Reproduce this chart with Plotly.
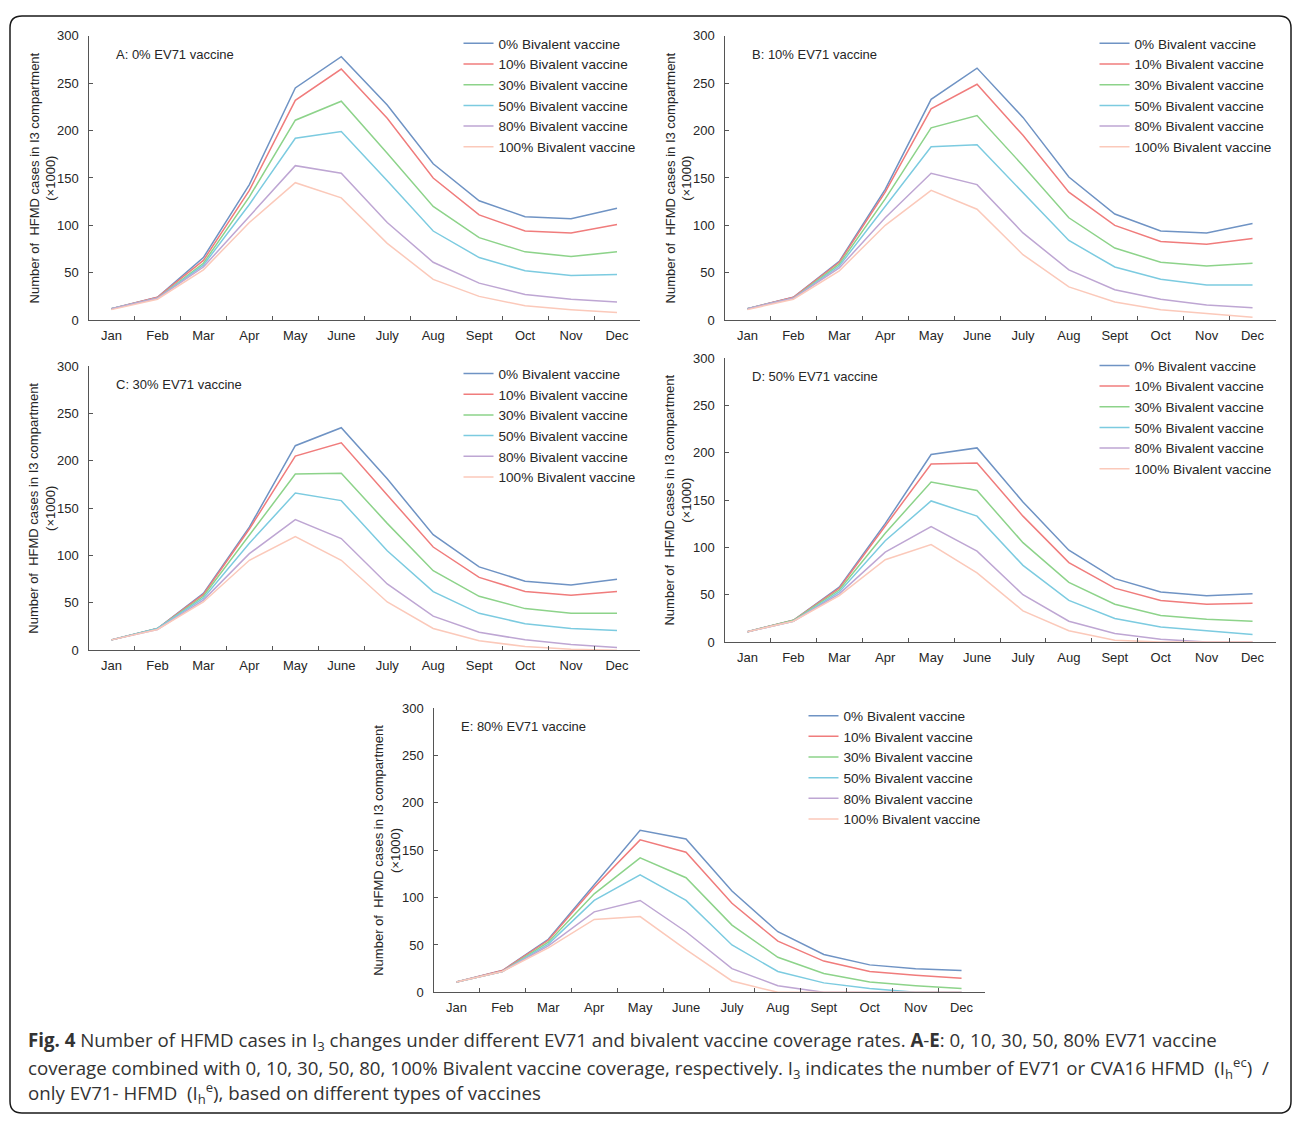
import plotly.graph_objects as go

W, H = 1292, 1122

months = ["Jan", "Feb", "Mar", "Apr", "May", "June", "July", "Aug", "Sept", "Oct", "Nov", "Dec"]
series_names = ["0% Bivalent vaccine", "10% Bivalent vaccine", "30% Bivalent vaccine",
                "50% Bivalent vaccine", "80% Bivalent vaccine", "100% Bivalent vaccine"]
colors = ["#6F93C4", "#F07C7C", "#8DD38A", "#7CCBE0", "#BEA6D3", "#FBC9BA"]

panel_titles = ["A: 0% EV71 vaccine", "B: 10% EV71 vaccine", "C: 30% EV71 vaccine",
                "D: 50% EV71 vaccine", "E: 80% EV71 vaccine"]

# Panel A: 0% EV71
a0 = [12, 24, 66, 143, 245, 278, 227, 165, 126, 109, 107, 118]
a10 = [12, 24, 63, 137, 232, 265, 213, 150, 111, 94, 92, 101]
a30 = [12, 23, 60, 130, 211, 231, 176, 120, 87, 72, 67, 72]
a50 = [12, 23, 58, 122, 192, 199, 147, 94, 66, 52, 47, 48]
a80 = [12, 23, 56, 110, 163, 155, 103, 61, 39, 27, 22, 19]
a100 = [11, 22, 53, 103, 145, 129, 81, 43, 25, 15, 11, 8]

# Panel B: 10% EV71
b0 = [12, 24, 62, 138, 233, 266, 214, 151, 112, 94, 92, 102]
b10 = [12, 24, 61, 135, 223, 249, 195, 135, 100, 83, 80, 86]
b30 = [12, 23, 59, 128, 203, 216, 163, 108, 76, 61, 57, 60]
b50 = [12, 23, 57, 120, 183, 185, 134, 84, 56, 43, 37, 37]
b80 = [12, 23, 55, 108, 155, 143, 92, 53, 32, 22, 16, 13]
b100 = [11, 22, 52, 100, 137, 117, 69, 35, 19, 11, 7, 3]

# Panel C: 30% EV71
c0 = [11, 23, 60, 130, 216, 235, 181, 122, 88, 73, 69, 75]
c10 = [11, 23, 59, 128, 205, 219, 164, 109, 77, 62, 58, 62]
c30 = [11, 23, 57, 122, 186, 187, 134, 84, 57, 44, 39, 39]
c50 = [11, 23, 55, 113, 166, 158, 105, 62, 39, 28, 23, 21]
c80 = [11, 22, 53, 102, 138, 118, 70, 36, 19, 11, 6, 3]
c100 = [11, 22, 51, 95, 120, 95, 51, 23, 10, 4, 1, 0]

# Panel D: 50% EV71
d0 = [11, 23, 58, 125, 198, 205, 148, 97, 67, 53, 49, 51]
d10 = [11, 23, 57, 122, 188, 189, 133, 84, 57, 44, 40, 41]
d30 = [11, 23, 55, 115, 169, 160, 105, 63, 40, 28, 24, 22]
d50 = [11, 22, 53, 107, 149, 133, 81, 44, 25, 16, 12, 8]
d80 = [11, 22, 51, 95, 122, 96, 50, 22, 9, 3, 0, 0]
d100 = [11, 22, 49, 87, 103, 73, 33, 12, 2, 0, 0, 0]

# Panel E: 80% EV71
e0 = [11, 23, 56, 113, 171, 162, 107, 64, 40, 29, 25, 23]
e10 = [11, 23, 55, 111, 161, 148, 94, 54, 33, 22, 18, 15]
e30 = [11, 22, 53, 104, 142, 121, 71, 37, 20, 11, 7, 4]
e50 = [11, 22, 51, 97, 124, 97, 50, 22, 10, 4, 0, 0]
e80 = [11, 22, 49, 85, 97, 64, 25, 7, 0, 0, 0, 0]
e100 = [11, 22, 47, 77, 80, 45, 12, 0, 0, 0, 0, 0]

y_ticks = [0, 50, 100, 150, 200, 250, 300]
y_title = "Number of  HFMD cases in I3 compartment<br>(×1000)"

panels = [
    [a0, a10, a30, a50, a80, a100],
    [b0, b10, b30, b50, b80, b100],
    [c0, c10, c30, c50, c80, c100],
    [d0, d10, d30, d50, d80, d100],
    [e0, e10, e30, e50, e80, e100],
]

# plot-area boxes in pixels: (x_left, x_right, y_top(300), y_bottom(0))
boxes = [
    (88.5, 640, 29.3, 317.3),
    (724.5, 1275.5, 29.3, 317.3),
    (88.5, 640, 364, 652),
    (724.5, 1275.5, 355.7, 643.7),
    (433.5, 984.5, 710.7, 998.7),
]

FONT = "Liberation Sans, Arial, sans-serif"
AXC = "#555555"
TXT = "#262626"

fig = go.Figure()
layout = dict(
    width=W, height=H, margin=dict(l=0, r=0, t=0, b=0),
    paper_bgcolor="white", plot_bgcolor="white",
    showlegend=True, font=dict(family=FONT, size=13, color=TXT),
)
annotations = []
shapes = []

def px(x):
    return x / W

def py(y):
    return 1 - y / H

for i, (series, box) in enumerate(zip(panels, boxes)):
    n = "" if i == 0 else str(i + 1)
    xl, xr, yt, yb = box
    lg = "legend" + n
    for vals, name, col in zip(series, series_names, colors):
        fig.add_trace(go.Scatter(
            x=months, y=vals, name=name, mode="lines",
            line=dict(color=col, width=1.5),
            xaxis="x" + n, yaxis="y" + n, legend=lg, showlegend=True,
            hoverinfo="skip",
        ))
    layout["xaxis" + n] = dict(
        domain=[px(xl), px(xr)], anchor="y" + n, type="category",
        range=[-0.5, 11.5], tickson="boundaries", ticks="inside", ticklen=4,
        tickcolor=AXC, showline=True, linecolor=AXC, linewidth=1.2,
        showgrid=False, zeroline=False, tickfont=dict(size=13, color=TXT),
        ticklabelstandoff=3, fixedrange=True,
    )
    layout["yaxis" + n] = dict(
        domain=[py(yb), py(yt)], anchor="x" + n, range=[0, 300],
        tickvals=y_ticks, ticks="inside", ticklen=4, tickcolor=AXC,
        showline=True, linecolor=AXC, linewidth=1.2, showgrid=False,
        zeroline=False, tickfont=dict(size=13, color=TXT),
        ticklabelstandoff=6, fixedrange=True,
    )
    # legend
    layout[lg] = dict(
        x=px(xl + 370), y=py(yt - 8), xanchor="left", yanchor="top",
        bgcolor="rgba(0,0,0,0)", borderwidth=0,
        font=dict(size=13.6, color=TXT, family=FONT), itemclick=False,
        itemdoubleclick=False, tracegroupgap=0,
    )
    # panel label
    annotations.append(dict(
        text=panel_titles[i], x=px(xl + 25), y=py(yt + 19), xref="paper", yref="paper",
        xanchor="left", yanchor="middle", showarrow=False,
        font=dict(size=13, color=TXT, family=FONT),
    ))
    # y-axis title
    annotations.append(dict(
        text=y_title, x=px(xl - 46), y=py((yt + yb) / 2), xref="paper", yref="paper",
        xanchor="center", yanchor="middle", showarrow=False, textangle=-90,
        font=dict(size=13, color=TXT, family=FONT),
    ))

# caption
CAPF = "Open Sans, Noto Sans, sans-serif"
cap_lines = [
    "<b>Fig. 4</b> Number of HFMD cases in I<sub>3</sub> changes under different EV71 and bivalent vaccine coverage rates. <b>A</b>-<b>E</b>: 0, 10, 30, 50, 80% EV71 vaccine",
    "coverage combined with 0, 10, 30, 50, 80, 100% Bivalent vaccine coverage, respectively. I<sub>3</sub> indicates the number of EV71 or CVA16 HFMD  (I<sub>h</sub><sup>ec</sup>)  /",
    "only EV71- HFMD  (I<sub>h</sub><sup>e</sup>), based on different types of vaccines",
]
cap_y = [1048, 1075, 1101]
for t, yy in zip(cap_lines, cap_y):
    annotations.append(dict(
        text=t, x=px(26), y=py(yy), xref="paper", yref="paper",
        xanchor="left", yanchor="middle", showarrow=False, align="left",
        font=dict(size=18.7, color="#333333", family=CAPF),
    ))

# rounded border around the figure
r = 12
x0, y0, x1, y1 = 10, 9, 1291, 1121
path = (f"M {x0+r},{y0} L {x1-r},{y0} Q {x1},{y0} {x1},{y0+r} L {x1},{y1-r} Q {x1},{y1} {x1-r},{y1} "
        f"L {x0+r},{y1} Q {x0},{y1} {x0},{y1-r} L {x0},{y0+r} Q {x0},{y0} {x0+r},{y0} Z")

def conv_path():
    tokens = path.replace(",", " ").split()
    out = []
    j = 0
    while j < len(tokens):
        tk = tokens[j]
        if tk.isalpha():
            out.append(tk)
            j += 1
        else:
            xx = float(tokens[j]); yy = float(tokens[j + 1])
            out.append(f"{px(xx):.5f},{py(yy):.5f}")
            j += 2
    return " ".join(out)

shapes.append(dict(type="path", path=conv_path(), xref="paper", yref="paper",
                   line=dict(color="#1a1a1a", width=1.5), fillcolor="rgba(0,0,0,0)"))

layout["annotations"] = annotations
layout["shapes"] = shapes
fig.update_layout(**layout)
fig.write_html("out.html", config={"displayModeBar": False},
               post_script="document.body.style.margin='0';document.body.style.overflow='hidden';")
